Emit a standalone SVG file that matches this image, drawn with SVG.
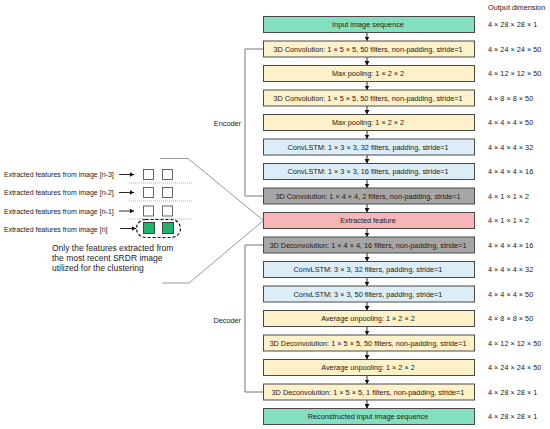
<svg xmlns="http://www.w3.org/2000/svg" width="550" height="429" viewBox="0 0 550 429">
<defs>
<style>
.t{font-family:"Liberation Sans",Arial,sans-serif;font-size:7.3px;fill:#1a1a1a}
.s{font-size:7px}
.c{text-anchor:middle}
.b{stroke:#4a4a4a;stroke-width:1}
.g{fill:#84dfc1}.y{fill:#fdf1ca}.bl{fill:#dcedf8}.gr{fill:#a6a6a6}.pk{fill:#f8b5b7}
.ar{stroke:#111;stroke-width:0.9;fill:none;marker-end:url(#ah)}
.br{stroke:#666;stroke-width:0.9;fill:none}
.cn{stroke:#999;stroke-width:1;fill:none}
.dt{stroke:#999;stroke-width:0.8;stroke-dasharray:1,1}
.sq{fill:#fff;stroke:#555;stroke-width:0.9}
.gs{fill:#1fb36c;stroke:#333;stroke-width:0.9}
</style>
<marker id="ah" markerUnits="userSpaceOnUse" markerWidth="5" markerHeight="5" refX="4.5" refY="2.5" orient="auto">
<path d="M0,0 L4.5,2.5 L0,5 z" fill="#111"/>
</marker>
</defs>
<rect width="550" height="429" fill="#fff"/>
<text class="t" x="488" y="10">Output dimension</text>
<g id="connectors">
<line class="ar" x1="367" y1="32.5" x2="367" y2="41"/>
<line class="ar" x1="367" y1="57" x2="367" y2="65.5"/>
<line class="ar" x1="367" y1="81.5" x2="367" y2="90"/>
<line class="ar" x1="367" y1="106" x2="367" y2="114.5"/>
<line class="ar" x1="367" y1="130.5" x2="367" y2="139"/>
<line class="ar" x1="367" y1="155" x2="367" y2="163.5"/>
<line class="ar" x1="367" y1="179.5" x2="367" y2="188"/>
<line class="ar" x1="367" y1="204" x2="367" y2="212.5"/>
<line class="ar" x1="367" y1="228.5" x2="367" y2="237"/>
<line class="ar" x1="367" y1="253" x2="367" y2="261.5"/>
<line class="ar" x1="367" y1="277.5" x2="367" y2="286"/>
<line class="ar" x1="367" y1="302" x2="367" y2="310.5"/>
<line class="ar" x1="367" y1="326.5" x2="367" y2="335"/>
<line class="ar" x1="367" y1="351" x2="367" y2="359.5"/>
<line class="ar" x1="367" y1="375.5" x2="367" y2="384"/>
<line class="ar" x1="367" y1="400" x2="367" y2="408.5"/>
<path class="br" d="M263.5,49 H245 V196 H263.5"/>
<path class="br" d="M263.5,245 H245 V392 H263.5"/>
<polyline class="cn" points="160,158.5 188,158.5 263.5,220.5"/>
<polyline class="cn" points="263.5,220.5 189,283 162,283"/>
<line class="ar" x1="119" y1="174.5" x2="134" y2="174.5"/>
<line class="ar" x1="119" y1="192.5" x2="134" y2="192.5"/>
<line class="ar" x1="119" y1="211" x2="134" y2="211"/>
<line class="ar" x1="120" y1="228.5" x2="136" y2="228.5"/>
</g>
<text class="t" x="241" y="125.5" text-anchor="end">Encoder</text>
<text class="t" x="241" y="323" text-anchor="end">Decoder</text>
<g id="n0"><rect class="b g" x="263.5" y="16.5" width="211" height="16"/><text class="t c" x="368" y="27.1">Input image sequence</text><text class="t" x="488" y="27.1">4 × 28 × 28 × 1</text></g>
<g id="n1"><rect class="b y" x="263.5" y="41" width="211" height="16"/><text class="t c" x="368" y="51.6">3D Convolution: 1 × 5 × 5, 50 filters, non-padding, stride=1</text><text class="t" x="488" y="51.6">4 × 24 × 24 × 50</text></g>
<g id="n2"><rect class="b y" x="263.5" y="65.5" width="211" height="16"/><text class="t c" x="368" y="76.1">Max pooling: 1 × 2 × 2</text><text class="t" x="488" y="76.1">4 × 12 × 12 × 50</text></g>
<g id="n3"><rect class="b y" x="263.5" y="90" width="211" height="16"/><text class="t c" x="368" y="100.6">3D Convolution: 1 × 5 × 5, 50 filters, non-padding, stride=1</text><text class="t" x="488" y="100.6">4 × 8 × 8 × 50</text></g>
<g id="n4"><rect class="b y" x="263.5" y="114.5" width="211" height="16"/><text class="t c" x="368" y="125.1">Max pooling: 1 × 2 × 2</text><text class="t" x="488" y="125.1">4 × 4 × 4 × 50</text></g>
<g id="n5"><rect class="b bl" x="263.5" y="139" width="211" height="16"/><text class="t c" x="368" y="149.6">ConvLSTM: 1 × 3 × 3, 32 filters, padding, stride=1</text><text class="t" x="488" y="149.6">4 × 4 × 4 × 32</text></g>
<g id="n6"><rect class="b bl" x="263.5" y="163.5" width="211" height="16"/><text class="t c" x="368" y="174.1">ConvLSTM: 1 × 3 × 3, 16 filters, padding, stride=1</text><text class="t" x="488" y="174.1">4 × 4 × 4 × 16</text></g>
<g id="n7"><rect class="b gr" x="263.5" y="188" width="211" height="16"/><text class="t c" x="368" y="198.6">3D Convolution: 1 × 4 × 4, 2 filters, non-padding, stride=1</text><text class="t" x="488" y="198.6">4 × 1 × 1 × 2</text></g>
<g id="n8"><rect class="b pk" x="263.5" y="212.5" width="211" height="16"/><text class="t c" x="368" y="223.1">Extracted feature</text><text class="t" x="488" y="223.1">4 × 1 × 1 × 2</text></g>
<g id="n9"><rect class="b gr" x="263.5" y="237" width="211" height="16"/><text class="t c" x="368" y="247.6">3D Deconvolution: 1 × 4 × 4, 16 filters, non-padding, stride=1</text><text class="t" x="488" y="247.6">4 × 4 × 4 × 16</text></g>
<g id="n10"><rect class="b bl" x="263.5" y="261.5" width="211" height="16"/><text class="t c" x="368" y="272.1">ConvLSTM: 3 × 3, 32 filters, padding, stride=1</text><text class="t" x="488" y="272.1">4 × 4 × 4 × 32</text></g>
<g id="n11"><rect class="b bl" x="263.5" y="286" width="211" height="16"/><text class="t c" x="368" y="296.6">ConvLSTM: 3 × 3, 50 filters, padding, stride=1</text><text class="t" x="488" y="296.6">4 × 4 × 4 × 50</text></g>
<g id="n12"><rect class="b y" x="263.5" y="310.5" width="211" height="16"/><text class="t c" x="368" y="321.1">Average unpooling: 1 × 2 × 2</text><text class="t" x="488" y="321.1">4 × 8 × 8 × 50</text></g>
<g id="n13"><rect class="b y" x="263.5" y="335" width="211" height="16"/><text class="t c" x="368" y="345.6">3D Deconvolution: 1 × 5 × 5, 50 filters, non-padding, stride=1</text><text class="t" x="488" y="345.6">4 × 12 × 12 × 50</text></g>
<g id="n14"><rect class="b y" x="263.5" y="359.5" width="211" height="16"/><text class="t c" x="368" y="370.1">Average unpooling: 1 × 2 × 2</text><text class="t" x="488" y="370.1">4 × 24 × 24 × 50</text></g>
<g id="n15"><rect class="b y" x="263.5" y="384" width="211" height="16"/><text class="t c" x="368" y="394.6">3D Deconvolution: 1 × 5 × 5, 1 filters, non-padding, stride=1</text><text class="t" x="488" y="394.6">4 × 28 × 28 × 1</text></g>
<g id="n16"><rect class="b g" x="263.5" y="408.5" width="211" height="16"/><text class="t c" x="368" y="419.1">Reconstructed input image sequence</text><text class="t" x="488" y="419.1">4 × 28 × 28 × 1</text></g>
<g id="features">
<text class="t s" x="4" y="177">Extracted features from image [n-3]</text>
<text class="t s" x="4" y="195">Extracted features from image [n-2]</text>
<text class="t s" x="4" y="213.5">Extracted features from image [n-1]</text>
<text class="t s" x="4" y="231.5">Extracted features from image [n]</text>
<rect class="sq" x="143.5" y="169.5" width="10" height="10"/><rect class="sq" x="162.5" y="169.5" width="10" height="10"/>
<rect class="sq" x="143.5" y="187.5" width="10" height="10"/><rect class="sq" x="162.5" y="187.5" width="10" height="10"/>
<rect class="sq" x="143.5" y="206" width="10" height="10"/><rect class="sq" x="162.5" y="206" width="10" height="10"/>
<line class="dt" x1="129" y1="183" x2="192" y2="183"/>
<line class="dt" x1="129" y1="201" x2="192" y2="201"/>
<line class="dt" x1="129" y1="219" x2="192" y2="219"/>
<rect class="gs" x="143.5" y="222.5" width="11" height="11"/><rect class="gs" x="162.5" y="222.5" width="11" height="11"/>
<rect x="136.5" y="219.5" width="44" height="18" rx="9" fill="none" stroke="#111" stroke-width="1.2" stroke-dasharray="3,2"/>
</g>
<g id="note" font-family="Liberation Sans, Arial, sans-serif" font-size="8.5" fill="#222">
<text x="52" y="251">Only the features extracted from</text>
<text x="52" y="261">the most recent SRDR image</text>
<text x="52" y="271">utilized for the clustering</text>
</g>
</svg>
